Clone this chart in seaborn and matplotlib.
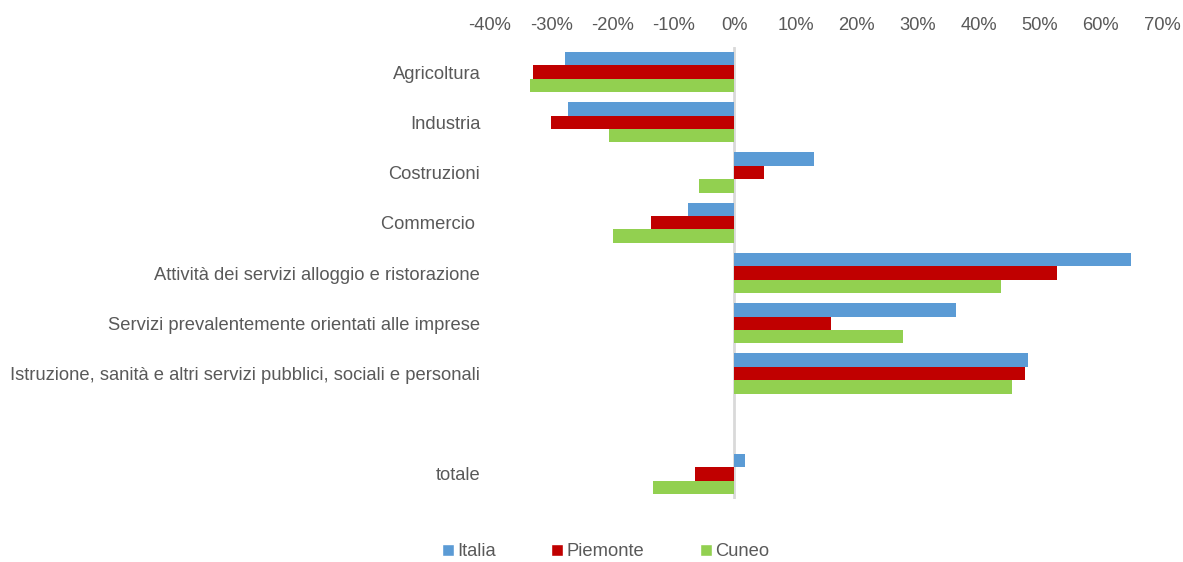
import matplotlib
matplotlib.use("Agg")
import matplotlib.pyplot as plt
import seaborn as sns
import pandas as pd
import numpy as np
from matplotlib.patches import Patch

categories = [
    "Agricoltura",
    "Industria",
    "Costruzioni",
    "Commercio ",
    "Attività dei servizi alloggio e ristorazione",
    "Servizi prevalentemente orientati alle imprese",
    "Istruzione, sanità e altri servizi pubblici, sociali e personali",
    " ",
    "totale",
]
italia = [-27.7, -27.3, 13.0, -7.6, 65.0, 36.3, 48.1, np.nan, 1.8]
piemonte = [-33.0, -30.0, 4.9, -13.7, 52.8, 15.9, 47.6, np.nan, -6.5]
cuneo = [-33.4, -20.6, -5.8, -19.8, 43.7, 27.6, 45.4, np.nan, -13.3]
series_names = ["Italia", "Piemonte", "Cuneo"]
colors = ["#5B9BD5", "#C00000", "#92D050"]
xticks = list(range(-40, 71, 10))

rows = []
for name, vals in zip(series_names, [italia, piemonte, cuneo]):
    for c, v in zip(categories, vals):
        rows.append({"cat": c, "serie": name, "val": v})
df = pd.DataFrame(rows).dropna()

sns.set_theme(style="white")
plt.rcParams["font.family"] = ["Liberation Sans", "DejaVu Sans"]

fig = plt.figure(figsize=(11.83, 5.62), dpi=100)
ax = fig.add_axes([490 / 1183, 1 - 499 / 562, (1162 - 490) / 1183, (499 - 47) / 562])

sns.barplot(data=df, x="val", y="cat", hue="serie", order=categories,
            hue_order=series_names, palette=colors, orient="h",
            width=0.8, saturation=1, errorbar=None, ax=ax, legend=True,
            linewidth=0)

ax.set_xlim(-40, 70)
ax.set_xticks(xticks)
ax.set_xticklabels([f"{t}%" for t in xticks])
ax.xaxis.tick_top()
ax.set_xlabel("")
ax.set_ylabel("")
for s in ax.spines.values():
    s.set_visible(False)
ax.axvline(0, color="#D9D9D9", lw=2, zorder=0)
ax.tick_params(axis="both", length=0, labelsize=13.25, labelcolor="#595959")
ax.tick_params(axis="x", pad=9)
ax.tick_params(axis="y", pad=7)

ax.get_legend().remove()
handles = [Patch(facecolor=c, label=n) for c, n in zip(colors, series_names)]
fig.legend(handles=handles, loc="center", bbox_to_anchor=(0.512, 1 - 552 / 562),
           ncol=3, frameon=False, fontsize=13.25, labelcolor="#595959",
           handlelength=0.65, handleheight=0.65, handletextpad=0.2, columnspacing=3.0)

fig.savefig("out.png", dpi=100)
